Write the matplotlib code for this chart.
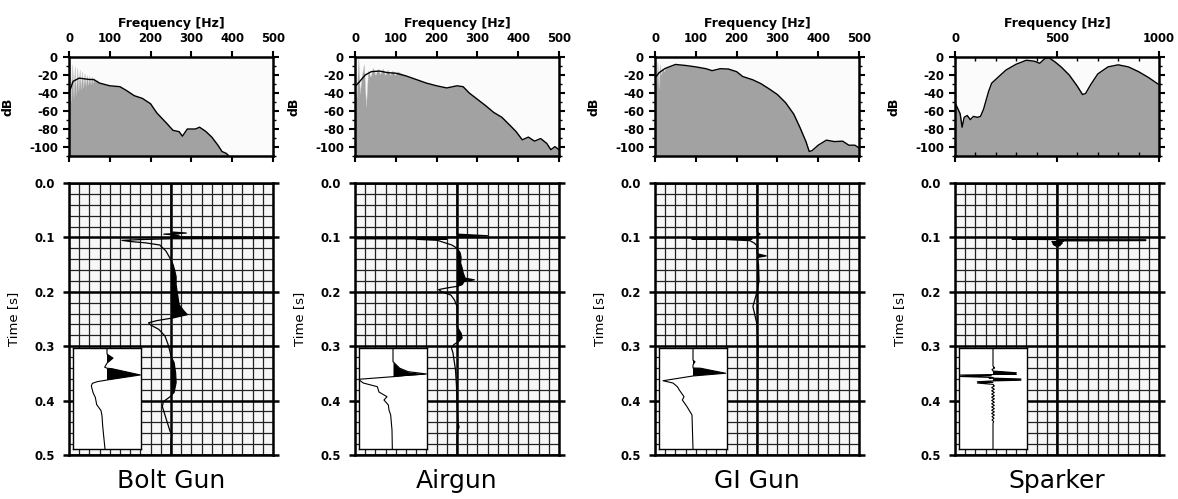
import numpy as np
import matplotlib.pyplot as plt
from matplotlib.ticker import MultipleLocator, FixedLocator

plt.rcParams['font.family'] = ['DejaVu Sans']
plt.rcParams['axes.unicode_minus'] = False

names = ['Bolt Gun', 'Airgun', 'GI Gun', 'Sparker']
fmax = [500, 500, 500, 1000]
fstep = [100, 100, 100, 500]

# smoothed amplitude spectra (Hz, dB)
bolt_f = [0, 10, 25, 50, 60, 75, 100, 125, 140, 160, 180, 200, 215, 240, 255, 270, 278,
          290, 310, 320, 335, 350, 365, 375, 385, 390, 400]
bolt_db = [-40, -27, -23.5, -25, -25, -29, -32, -33, -37, -43, -46, -52, -62, -74, -81.5,
           -83, -88, -80, -80, -78, -82.6, -89, -98, -105, -107, -109, -115]
air_f = [0, 10, 25, 40, 60, 80, 100, 125, 150, 175, 200, 225, 250, 265, 280, 300, 320,
         340, 360, 380, 395, 410, 425, 440, 455, 470, 480, 490, 500]
air_db = [-33, -28, -20, -16.3, -15.6, -17.4, -18, -21, -25, -29, -32, -34.4, -32, -33,
          -40, -47, -54, -61.6, -67, -76, -83, -92, -89, -93.5, -90.6, -96, -103, -99.6, -103]
gi_f = [0, 10, 25, 50, 75, 100, 125, 140, 160, 180, 200, 215, 240, 260, 280, 300, 320,
        340, 355, 370, 378, 385, 400, 420, 440, 460, 475, 490, 500]
gi_db = [-23.5, -17.4, -12.7, -8.3, -9.4, -11, -13, -15.2, -13, -13.4, -16.3, -21.7, -25.4,
         -29.7, -35.5, -41.7, -50.7, -63.4, -78, -94, -105, -104, -98, -92.4, -94, -93.5,
         -98, -98, -101]
spark_f = [0, 15, 25, 35, 45, 60, 75, 90, 110, 125, 140, 165, 180, 215, 250, 300, 350, 390,
           415, 440, 460, 490, 520, 560, 600, 625, 640, 665, 700, 750, 800, 850, 900, 950, 1000]
spark_db = [-50.7, -58, -63, -78, -67, -65, -69.6, -66, -67, -66, -58, -38, -29, -21.7, -14.5,
            -8, -3.6, -4.7, -7, -1.8, -0.7, -5.4, -11, -20, -32.6, -41.7, -40.6, -30.8, -18.8,
            -11, -8.7, -11, -16.3, -23, -30.8]

# unsmoothed spectrum at low frequencies (bubble notches)
bolt_raw_f = [0, 3, 5, 8, 11, 14, 17, 20, 23, 26, 29, 32, 35, 38, 41, 44, 47, 50, 53, 56,
              59, 62, 65, 68, 71]
bolt_raw_db = [-40, -5, -50, -8, -45, -10, -42, -12, -38, -14, -36, -16, -34, -18, -32, -20,
               -31, -21, -30, -22, -29, -23, -28, -25, -28]
air_raw_f = [0, 4, 8, 12, 17, 22, 27, 32, 38, 44, 50, 56, 62, 68, 74, 80, 86, 92, 98, 104]
air_raw_db = [-33, -45, 0, -40, -20, -8, -55, -15, -22, -12, -20, -13, -19, -13, -20, -14,
              -20, -15, -20, -16]
gi_raw_f = [0, 3, 6, 9, 12, 15, 18, 22]
gi_raw_db = [-23, -30, -5, -35, -8, -20, -12, -16]
spark_raw_f = []
spark_raw_db = []

# source signatures: time (s) and normalised amplitude
bolt_t = [0, 0.090, 0.092, 0.094, 0.096, 0.099, 0.1012, 0.1025, 0.104, 0.1055, 0.1075, 0.110,
          0.114, 0.125, 0.138, 0.1415, 0.150, 0.160, 0.172, 0.187, 0.200, 0.224, 0.236, 0.242,
          0.248, 0.253, 0.257, 0.261, 0.269, 0.281, 0.296, 0.310, 0.319, 0.330, 0.349, 0.367,
          0.385, 0.393, 0.402, 0.411, 0.426, 0.444, 0.456, 0.462, 0.472, 0.500]
bolt_a = [0, 0, 0.15, -0.07, 0.08, 0, 3.0, 0, -0.3, -0.48, -0.40, -0.25, -0.11, -0.05, -0.01,
          0, 0.02, 0.035, 0.05, 0.05, 0.06, 0.08, 0.13, 0.16, 0.02, -0.14, -0.22, -0.20, -0.12,
          -0.06, -0.03, -0.01, 0, 0.03, 0.045, 0.05, 0.03, -0.01, -0.075, -0.085, -0.06, -0.03,
          -0.01, 0.01, 0.0, 0]
air_t = [0, 0.094, 0.097, 0.099, 0.0995, 0.1005, 0.1012, 0.102, 0.1028, 0.1035, 0.1054,
         0.108, 0.111, 0.114, 0.120, 0.128, 0.137, 0.147, 0.156, 0.165, 0.175, 0.178, 0.181,
         0.187, 0.190, 0.193, 0.196, 0.200, 0.206, 0.215, 0.227, 0.264, 0.276, 0.285, 0.291,
         0.297, 0.303, 0.312, 0.343, 0.373, 0.404, 0.440, 0.449, 0.458, 0.500]
air_a = [0, 0, 0.3, 0, 0, -3.0, -0.1, -3.0, -0.1, -0.4, -0.19, -0.15, -0.1, -0.05, 0, 0.03,
         0.04, 0.035, 0.05, 0.06, 0.08, 0.17, 0.07, 0.05, 0.0, -0.1, -0.18, -0.15, -0.06,
         -0.025, 0, 0, 0.04, 0.05, 0.02, -0.03, -0.055, -0.04, -0.015, -0.005, 0, 0.01, 0.02,
         0, 0]
gi_t = [0, 0.090, 0.094, 0.098, 0.0995, 0.1003, 0.1009, 0.1015, 0.1021, 0.1027, 0.1033,
        0.104, 0.106, 0.110, 0.115, 0.130, 0.134, 0.137, 0.150, 0.180, 0.200, 0.227, 0.260,
        0.300, 0.500]
gi_a = [0, 0, 0.03, 0, 0, -0.64, -0.05, -0.64, -0.05, -0.64, -0.05, -0.3, -0.07, -0.03, 0, 0,
        0.09, 0, 0.015, 0.02, 0, -0.04, 0, 0.01, 0]
spark_t = [0, 0.1015, 0.1022, 0.1028, 0.1034, 0.104, 0.1045, 0.1052, 0.1058, 0.1064, 0.107,
           0.108, 0.109, 0.110, 0.111, 0.112, 0.113, 0.114, 0.115, 0.116, 0.118, 0.500]
spark_a = [0, 0, -0.44, -0.05, -0.44, 0, 0.87, 0.87, 0.87, 0, 0.06, -0.05, 0.05, -0.04,
           0.05, -0.04, 0.04, -0.03, 0.03, -0.01, 0, 0]

# close-up of the first arrival (relative time 0-1)
bolt_zt = [0, 0.06, 0.10, 0.15, 0.19, 0.20, 0.205, 0.267, 0.317, 0.333, 0.35, 0.376, 0.44,
           0.49, 0.56, 0.62, 0.67, 0.77, 0.87, 1.0]
bolt_za = [0, 0, 0.18, 0, -0.07, 0, 0.15, 1.0, 0, -0.29, -0.44, -0.47, -0.42, -0.35, -0.31,
           -0.18, -0.15, -0.13, -0.1, -0.06]
air_zt = [0, 0.135, 0.168, 0.2, 0.234, 0.257, 0.274, 0.284, 0.31, 0.347, 0.383, 0.436, 0.482,
          0.515, 0.564, 0.614, 0.663, 0.812, 1.0]
air_za = [0, 0, 0.1, 0.2, 0.45, 1.0, 0.3, 0, -1.04, -0.89, -0.47, -0.42, -0.18, -0.27, -0.14,
          -0.12, -0.07, -0.03, -0.02]
gi_zt = [0, 0.12, 0.136, 0.168, 0.198, 0.2, 0.25, 0.277, 0.324, 0.347, 0.383, 0.416, 0.482,
         0.515, 0.581, 0.614, 0.663, 1.0]
gi_za = [0, 0, 0.06, 0, 0, 0.22, 0.98, 0, -0.9, -0.6, -0.47, -0.41, -0.27, -0.32, -0.18,
         -0.12, -0.03, 0]
spark_zt = [0, 0.178, 0.198, 0.213, 0.228, 0.245, 0.252, 0.259, 0.268, 0.275, 0.282, 0.292,
            0.297, 0.307, 0.312, 0.319, 0.326, 0.334, 0.34, 0.347, 0.36, 0.376, 0.392, 0.408,
            0.424, 0.44, 0.456, 0.472, 0.488, 0.504, 0.52, 0.536, 0.552, 0.568, 0.584, 0.6,
            0.616, 0.632, 0.648, 0.664, 0.68, 0.696, 0.712, 0.728, 0.744, 1.0]
spark_za = [0, 0, 0.05, -0.03, 0, 0.7, 0.05, 0.7, -1.0, -0.05, -1.0, 0, -0.12, 0.84, 0.05,
            0.84, 0, -0.47, 0, -0.47, 0, 0.04, -0.04, 0.04, -0.04, 0.04, -0.04, 0.04, -0.04,
            0.04, -0.04, 0.04, -0.04, 0.04, -0.04, 0.04, -0.04, 0.04, -0.04, 0.04, -0.03,
            0.03, -0.03, 0.02, 0, 0]

spectra = [(bolt_f, bolt_db, bolt_raw_f, bolt_raw_db),
           (air_f, air_db, air_raw_f, air_raw_db),
           (gi_f, gi_db, gi_raw_f, gi_raw_db),
           (spark_f, spark_db, spark_raw_f, spark_raw_db)]
traces = [(bolt_t, bolt_a), (air_t, air_a), (gi_t, gi_a), (spark_t, spark_a)]
zooms = [(bolt_zt, bolt_za), (air_zt, air_za), (gi_zt, gi_za), (spark_zt, spark_za)]

W, H = 1178, 499
fig = plt.figure(figsize=(W / 100, H / 100), dpi=100)


def px_axes(x0, y0, x1, y1):
    return fig.add_axes([x0 / W, 1 - y1 / H, (x1 - x0) / W, (y1 - y0) / H])


def wiggle(ax, t, a, lw=0.9):
    t = np.asarray(t)
    a = np.asarray(a)
    ax.fill_betweenx(t, 0, a, where=a > 0, interpolate=True, color='black', lw=0, zorder=3)
    ax.plot(a, t, color='black', lw=lw, zorder=4)


lefts = [69, 355, 655, 955]
tick_fs = 8.4

for i, x0 in enumerate(lefts):
    x1 = x0 + 204

    # spectrum
    f, db, rf, rdb = spectra[i]
    f = np.asarray(f)
    db = np.asarray(db)
    if len(rf):
        cut = rf[-1]
        full_f = np.concatenate([rf, f[f > cut]])
        full_db = np.concatenate([rdb, db[f > cut]])
    else:
        full_f, full_db = f, db
    ax = px_axes(x0, 57, x1, 156)
    ax.set_facecolor('#fbfbfb')
    ax.fill_between(full_f, full_db, -120, color='#a2a2a2', lw=0.3, edgecolor='#c8c8c8')
    ax.plot(f, db, color='black', lw=1.0)
    ax.set_xlim(0, fmax[i])
    ax.set_ylim(-110, 0)
    for s in ax.spines.values():
        s.set_linewidth(1.8)
    ax.xaxis.set_major_locator(MultipleLocator(fstep[i]))
    if fmax[i] == 1000:
        ax.xaxis.set_minor_locator(MultipleLocator(100))
    ax.yaxis.set_major_locator(MultipleLocator(20))
    ax.yaxis.set_minor_locator(MultipleLocator(10))
    ax.tick_params(axis='x', which='major', top=True, bottom=True, labeltop=True,
                   labelbottom=False, direction='out', length=4, width=1.5, pad=5)
    ax.tick_params(axis='x', which='minor', top=True, bottom=True, direction='in',
                   length=3, width=1)
    ax.tick_params(axis='y', which='major', left=True, right=True, direction='out',
                   length=4, width=1.5, pad=4)
    ax.tick_params(axis='y', which='minor', left=True, right=True, direction='out',
                   length=2.5, width=1)
    for lab in ax.get_xticklabels() + ax.get_yticklabels():
        lab.set_fontweight('bold')
        lab.set_fontsize(tick_fs)
    ax.xaxis.set_label_position('top')
    ax.set_xlabel('Frequency [Hz]', fontsize=9, fontweight='bold', labelpad=3)
    ax.set_ylabel('dB', fontsize=9, fontweight='bold')
    ax.yaxis.set_label_coords((15 - 69) / 204, 0.5)

    # signature
    ax = px_axes(x0, 183, x1, 455)
    ax.set_facecolor('#f7f7f7')
    t, a = traces[i]
    wiggle(ax, t, a)
    ax.set_xlim(-1, 1)
    ax.set_ylim(0.5, 0)
    ax.xaxis.set_major_locator(FixedLocator([0]))
    ax.xaxis.set_minor_locator(MultipleLocator(0.1))
    ax.yaxis.set_major_locator(MultipleLocator(0.1))
    ax.yaxis.set_minor_locator(MultipleLocator(0.02))
    ax.set_axisbelow(True)
    ax.grid(which='major', color='black', lw=1.8)
    ax.grid(which='minor', color='#222222', lw=0.9)
    for s in ax.spines.values():
        s.set_linewidth(1.8)
    ax.tick_params(axis='x', which='both', length=0, labelbottom=False)
    ax.tick_params(axis='y', which='major', left=True, right=True, direction='out',
                   length=4, width=1.8, pad=6)
    ax.tick_params(axis='y', which='minor', length=0)
    ax.yaxis.set_major_formatter(plt.FormatStrFormatter('%.1f'))
    for lab in ax.get_yticklabels():
        lab.set_fontweight('bold')
        lab.set_fontsize(tick_fs)
    ax.set_ylabel('Time [s]', fontsize=9.5)
    ax.yaxis.set_label_coords((20 - 69) / 204, 0.5)

    # first arrival close-up
    zx0 = x0 + 4
    ins = px_axes(zx0, 348, zx0 + 68, 449)
    ins.set_facecolor('white')
    zt, za = zooms[i]
    wiggle(ins, zt, za, lw=0.8)
    ins.set_xlim(-1.02, 1.02)
    ins.set_ylim(1, 0)
    ins.set_xticks([])
    ins.set_yticks([])
    for s in ins.spines.values():
        s.set_linewidth(1.0)

    fig.text((x0 + x1) / 2 / W, 1 - 481 / H, names[i], ha='center', va='center', fontsize=18)

fig.savefig('out.png', dpi=100)
